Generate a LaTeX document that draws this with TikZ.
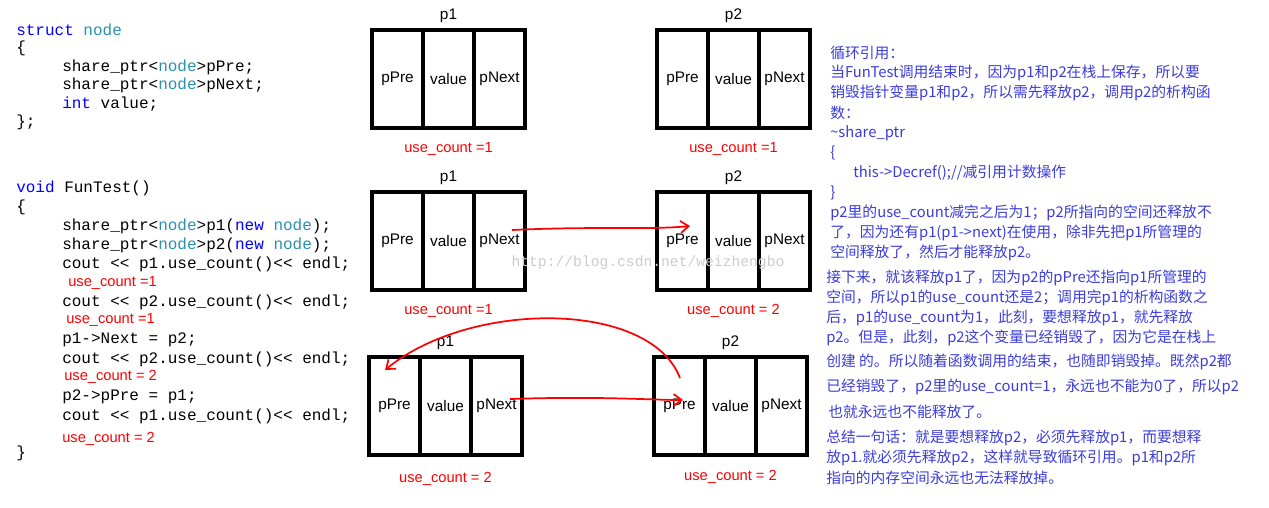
\documentclass[tikz,border=0pt]{standalone}
\usepackage{fontspec}
\setmainfont{Liberation Sans}
\newfontfamily\cjk{Noto Sans CJK SC}
\newfontfamily\codef{Liberation Mono}
\usetikzlibrary{arrows.meta,positioning}
\definecolor{kw}{RGB}{0,0,255}
\definecolor{ty}{RGB}{43,145,175}
\definecolor{rt}{RGB}{60,60,220}
\begin{document}
\begin{tikzpicture}[x=0.75pt,y=-0.75pt,
 cell/.style={draw,line width=3pt,minimum width=51*0.75pt,minimum height=98*0.75pt,inner sep=0pt,font=\fontsize{11.5}{12}\selectfont,anchor=west},
 code/.style={anchor=west,inner sep=0pt,font=\codef\fontsize{12}{14}\selectfont},
 red/.style={anchor=west,inner sep=0pt,text=red,font=\fontsize{11}{12}\selectfont},
 cnt/.style={inner sep=0pt,text=red,font=\fontsize{11}{12}\selectfont},
 title/.style={inner sep=0pt,font=\fontsize{11.5}{12}\selectfont},
 rtxt/.style={anchor=west,inner sep=0pt,text=rt,font=\cjk\fontsize{11.1}{12}\selectfont},
 rarrow/.style={draw=red,line width=1.3pt,-{Straight Barb[length=6pt,width=9pt]}}]
\useasboundingbox (0,0) rectangle (1269,507);
\fill[white] (0,0) rectangle (1269,507);
% code
\node[code] (c1) at (16,30) {\textcolor{kw}{struct} \textcolor{ty}{node}};
\node[code] (c2) at (16,48) {\{};
\node[code] (c3) at (62,67) {share\_ptr<\textcolor{ty}{node}>pPre;};
\node[code] (c4) at (62,85) {share\_ptr<\textcolor{ty}{node}>pNext;};
\node[code] (c5) at (62,104) {\textcolor{kw}{int} value;};
\node[code] (c6) at (16,122) {\};};
\node[code] (d1) at (16,188) {\textcolor{kw}{void} FunTest()};
\node[code] (d2) at (16,207) {\{};
\node[code] (d3) at (62,226) {share\_ptr<\textcolor{ty}{node}>p1(\textcolor{kw}{new} \textcolor{ty}{node});};
\node[code] (d4) at (62,245) {share\_ptr<\textcolor{ty}{node}>p2(\textcolor{kw}{new} \textcolor{ty}{node});};
\node[code] (d5) at (62,264) {cout << p1.use\_count()<< endl;};
\node[red] (e1) at (68,283) {use\_count =1};
\node[code] (d6) at (62,302) {cout << p2.use\_count()<< endl;};
\node[red] (e2) at (66,320) {use\_count =1};
\node[code] (d7) at (62,340) {p1->Next = p2;};
\node[code] (d8) at (62,359) {cout << p2.use\_count()<< endl;};
\node[red] (e3) at (64,377) {use\_count = 2};
\node[code] (d9) at (62,397) {p2->pPre = p1;};
\node[code] (d10) at (62,416) {cout << p1.use\_count()<< endl;};
\node[red] (e4) at (62,439) {use\_count = 2};
\node[code] (d11) at (16,453) {\}};
% boxes
\foreach \r/\x/\y/\t in {a/370/79/p1,b/655/79/p2,c/370/241/p1,d/655/241/p2,e/367/406/p1,f/652/406/p2}{
 \node[cell] (\r1) at (\x,\y) {pPre};
 \node[cell,xshift=-3pt] (\r2) at (\r1.east) {value};
 \node[cell,xshift=-3pt] (\r3) at (\r2.east) {pNext};
 \node[title,above=4pt of \r2.north] (\r t) {\t};
}
\node[cnt,below=9pt of a2.south] {use\_count =1};
\node[cnt,below=9pt of b2.south] {use\_count =1};
\node[cnt,below=9pt of c2.south] {use\_count =1};
\node[cnt,below=9pt of d2.south] {use\_count = 2};
\node[cnt,below=11pt of e2.south] {use\_count = 2};
\node[cnt,below=10pt of f2.south] {use\_count = 2};
\node[inner sep=0pt,text=black!20,font=\codef\fontsize{11}{12}\selectfont] (wm) at (648,263) {http://blog.csdn.net/weizhengbo};
% arrows
\coordinate (s1) at (512,230); \coordinate (t1) at (690,226);
\draw[rarrow] (s1) .. controls (600,226) and (650,230) .. (t1);
\coordinate (s2) at (510,399); \coordinate (t2) at (683,400);
\draw[rarrow] (s2) .. controls (600,396) and (650,400) .. (t2);
\coordinate (s3) at (680,378); \coordinate (t3) at (385,370);
\draw[rarrow] (s3) .. controls (650,300) and (470,300) .. (t3);
% right text
\node[rtxt] at (830,53) {循环引用：};
\node[rtxt] at (830,73) {当FunTest调用结束时，因为p1和p2在栈上保存，所以要};
\node[rtxt] at (830,93) {销毁指针变量p1和p2，所以需先释放p2，调用p2的析构函};
\node[rtxt] at (830,113) {数：};
\node[rtxt] at (830,133) {\textasciitilde share\_ptr};
\node[rtxt] at (830,153) {\{};
\node[rtxt] at (853,173) {this->Decref();//减引用计数操作};
\node[rtxt] at (830,193) {\}};
\node[rtxt] at (830,213) {p2里的use\_count减完之后为1；p2所指向的空间还释放不};
\node[rtxt] at (830,233) {了，因为还有p1(p1->next)在使用，除非先把p1所管理的};
\node[rtxt] at (830,253) {空间释放了，然后才能释放p2。};
\node[rtxt] at (826,278) {接下来，就该释放p1了，因为p2的pPre还指向p1所管理的};
\node[rtxt] at (826,298) {空间，所以p1的use\_count还是2；调用完p1的析构函数之};
\node[rtxt] at (826,318) {后，p1的use\_count为1，此刻，要想释放p1，就先释放};
\node[rtxt] at (826,338) {p2。但是，此刻，p2这个变量已经销毁了，因为它是在栈上};
\node[rtxt] at (826,362) {创建 的。所以随着函数调用的结束，也随即销毁掉。既然p2都};
\node[rtxt] at (826,387) {已经销毁了，p2里的use\_count=1，永远也不能为0了，所以p2};
\node[rtxt] at (828,412) {也就永远也不能释放了。};
\node[rtxt] at (826,438) {总结一句话：就是要想释放p2，必须先释放p1，而要想释};
\node[rtxt] at (826,458) {放p1.就必须先释放p2，这样就导致循环引用。p1和p2所};
\node[rtxt] at (826,478) {指向的内存空间永远也无法释放掉。};
\end{tikzpicture}
\end{document}
